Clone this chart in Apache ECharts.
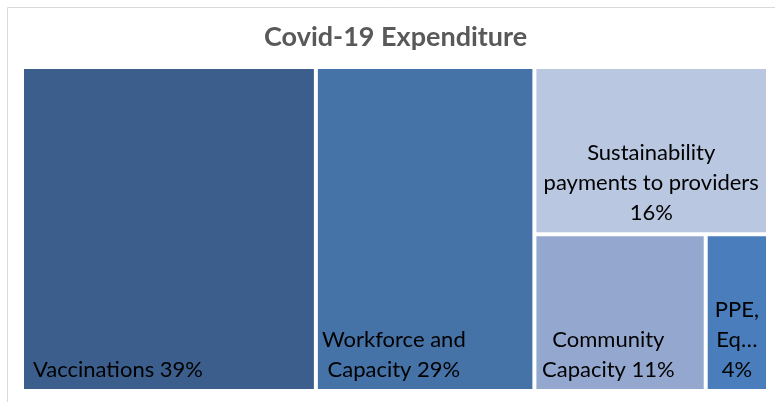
<!DOCTYPE html>
<html>
<head>
<meta charset="utf-8">
<script src="https://cdn.jsdelivr.net/npm/echarts@6/dist/echarts.min.js"></script>
<style>
  html, body { margin: 0; padding: 0; background: #fff; }
  #chart { width: 775px; height: 402px; }
</style>
</head>
<body>
<div id="chart"></div>
<script>
// 类别和占比 (%)
var categories = ["Vaccinations", "Workforce and Capacity", "Sustainability payments to providers", "Community Capacity", "PPE, Equipment"];
var values = [39, 29, 16, 11, 4];
// 图上显示的标签 (已换行)
var labelTexts = ["Vaccinations 39%", "Workforce and\nCapacity 29%", "Sustainability\npayments to providers\n16%", "Community\nCapacity 11%", "PPE,\nEq…\n4%"];
var colors = ["#3b5e8c", "#4572a7", "#b9c7e0", "#94a8cf", "#4a7dbb"];

// 每块的标签位置
var labelPos = [
  { position: [4, "100%"], align: "left", offset: [0, 1] },
  { position: [76, "100%"], align: "center", offset: [0, 1] },
  { position: ["50%", "100%"], align: "center", offset: [0, 1] },
  { position: ["43%", "100%"], align: "center", offset: [0, 1] },
  { position: ["50%", "100%"], align: "center", offset: [0, 1] }
];

var chart = echarts.init(document.getElementById("chart"));

var seriesData = categories.map(function(name, i) {
  return {
    name: name,
    value: values[i],
    itemStyle: { color: colors[i] },
    label: {
      formatter: labelTexts[i],
      position: labelPos[i].position,
      align: labelPos[i].align,
      verticalAlign: "bottom",
      offset: labelPos[i].offset
    }
  };
});

chart.setOption({
  animation: false,
  title: {
    text: "Covid-19 Expenditure",
    left: 264,
    top: 24,
    padding: 0,
    textStyle: {
      fontFamily: "Lato",
      fontSize: 27,
      fontWeight: "bold",
      color: "#595959"
    }
  },
  graphic: [{
    type: "rect",
    shape: { x: 7.5, y: 7.5, width: 800, height: 420 },
    style: { fill: "none", stroke: "#d9d9d9", lineWidth: 1 },
    silent: true
  }],
  series: [{
    type: "treemap",
    left: 24,
    top: 69,
    right: 9,
    bottom: 13,
    roam: false,
    nodeClick: false,
    squareRatio: 1,
    breadcrumb: { show: false },
    itemStyle: { borderWidth: 0, gapWidth: 4 },
    label: {
      show: true,
      fontFamily: "Lato",
      fontSize: 22,
      lineHeight: 30,
      overflow: "none",
      color: "#000"
    },
    data: seriesData
  }]
});
</script>
</body>
</html>
